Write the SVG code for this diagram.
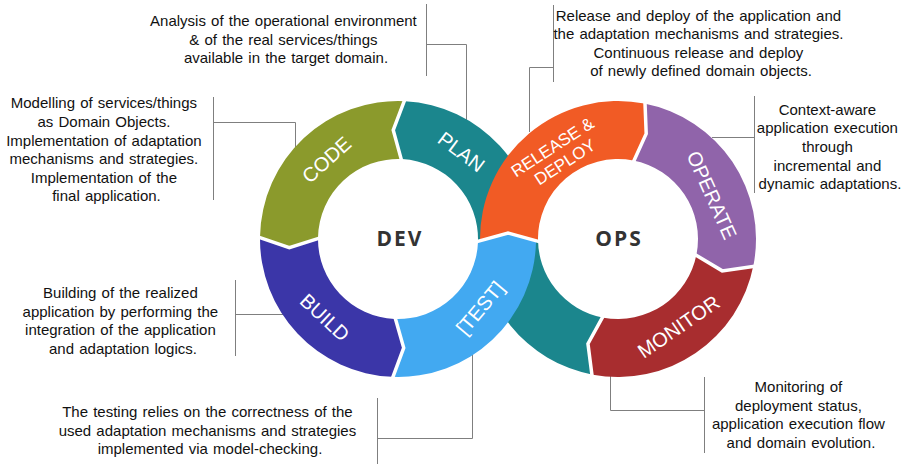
<svg xmlns="http://www.w3.org/2000/svg" width="904" height="464" viewBox="0 0 904 464">
  <style>
    .seg-label { font-family: "Liberation Sans", Arial, sans-serif; font-size: 20px; fill: #ffffff; text-anchor: middle; }
    .hub { font-family: "Open Sans", "DejaVu Sans", sans-serif; font-weight: bold; font-size: 21px; fill: #333333; text-anchor: middle; letter-spacing: 2px; }
    .desc { font-family: "Liberation Sans", Arial, sans-serif; font-size: 15px; fill: #111111; text-anchor: middle; word-spacing: 1px; }
    .conn { fill: none; stroke: #7f7f7f; stroke-width: 1; }
    .gap { fill: none; stroke: #ffffff; stroke-width: 3.5; stroke-linejoin: miter; }
  </style>
  <rect width="904" height="464" fill="#ffffff"/>

  <!-- callout lines -->
  <g id="connectors">
    <path class="conn" d="M426.5,4 V76 M426.5,44.5 H466.5 V120"/>
    <path class="conn" d="M213.5,97 V200 M213.5,122.5 H295.5 V148"/>
    <path class="conn" d="M553.5,5 V82 M553.5,67.5 H529.5 V132"/>
    <path class="conn" d="M754.5,96 V193 M754.5,137.5 H712"/>
    <path class="conn" d="M235.5,280 V356 M235.5,314.5 H284"/>
    <path class="conn" d="M377.5,398 V464 M377.5,438.5 H472.5 V354"/>
    <path class="conn" d="M704.5,377 V453 M704.5,410.5 H610.5 V375"/>
  </g>

  <!-- PLAN: top of the DEV ring, continuing under the crossing into the OPS ring -->
  <g id="plan">
    <path fill="#1b868d" d="M405.22,101.19 A138,138 0 0 1 535.92,243.82 L477.95,241.79 A80,80 0 0 0 402.19,159.11 L393.25,130.10 Z"/>
    <path fill="#1b868d" d="M592.85,374.69 A138,138 0 0 1 480.08,234.18 L538.05,236.21 A80,80 0 0 0 603.42,317.66 L587.96,343.78 Z"/>
    <text class="seg-label" transform="translate(461.5,151.6) rotate(37)" dy="0.36em">PLAN</text>
  </g>

  <g id="code">
    <path fill="#8b9a2c" d="M260.02,236.59 A138,138 0 0 1 405.22,101.19 L393.25,130.10 L402.19,159.11 A80,80 0 0 0 318.01,237.60 L289.34,247.55 Z"/>
    <text class="seg-label" transform="translate(326.4,159.5) rotate(-42)" dy="0.36em">CODE</text>
  </g>

  <g id="build">
    <path fill="#3b36a8" d="M391.98,376.87 A138,138 0 0 1 260.02,236.59 L289.34,247.55 L318.01,237.60 A80,80 0 0 0 394.51,318.92 L403.70,347.85 Z"/>
    <text class="seg-label" transform="translate(325,317.3) rotate(43)" dy="0.36em">BUILD</text>
  </g>

  <g id="operate">
    <path fill="#9064aa" d="M644.33,103.54 A138,138 0 0 1 753.46,265.33 L722.24,270.87 L696.53,254.26 A80,80 0 0 0 633.26,160.47 L646.21,133.71 Z"/>
    <text class="seg-label" transform="translate(712,195) rotate(66)" dy="0.36em">OPERATE</text>
  </g>

  <g id="monitor">
    <path fill="#a82d2f" d="M753.46,265.33 A138,138 0 0 1 592.85,374.69 L587.96,343.78 L603.42,317.66 A80,80 0 0 0 696.53,254.26 L722.24,270.87 Z"/>
    <text class="seg-label" transform="translate(678.5,326.5) rotate(-34.5)" dy="0.36em">MONITOR</text>
  </g>

  <g id="test">
    <path fill="#42a9f1" d="M536,242 A138,138 0 0 1 391.98,376.87 L403.70,347.85 L394.51,318.92 A80,80 0 0 0 478,242 L508,233 Z"/>
    <text class="seg-label" transform="translate(480,307.8) rotate(-50)" dy="0.36em">[TEST]</text>
  </g>

  <g id="release-deploy">
    <path fill="#f15b25" d="M480,242 A138,138 0 0 1 644.33,103.54 L646.21,133.71 L633.26,160.47 A80,80 0 0 0 538,242 L508,233 Z"/>
    <text class="seg-label" style="font-size:17px" transform="translate(559.5,153.7) rotate(-33)">
      <tspan x="0" y="-9.7" dy="0.36em">RELEASE &amp;</tspan>
      <tspan x="0" y="9.7" dy="0.36em">DEPLOY</tspan>
    </text>
  </g>

  <!-- white separators between consecutive phases -->
  <g id="separators">
    <polyline class="gap" points="402.03,162.10 393.25,130.10 405.38,98.19"/>
    <polyline class="gap" points="321.01,237.66 289.34,247.55 257.02,236.54"/>
    <polyline class="gap" points="394.64,315.92 403.70,347.85 391.85,379.87"/>
    <polyline class="gap" points="475,242.1 508,233 541,242.1"/>
    <polyline class="gap" points="632.69,163.41 646.21,133.71 644.90,100.59"/>
    <polyline class="gap" points="693.59,253.69 722.24,270.87 756.41,265.90"/>
    <polyline class="gap" points="603.97,314.71 587.96,343.78 592.30,377.64"/>
  </g>

  <g id="dev">
    <text class="hub" x="400" y="246">DEV</text>
  </g>
  <g id="ops">
    <text class="hub" x="619" y="246">OPS</text>
  </g>

  <g id="note-plan">
    <text class="desc">
      <tspan x="286" y="26">Analysis of the operational environment</tspan>
      <tspan x="286" y="44.6">&amp; of the real services/things</tspan>
      <tspan x="286" y="63.2">available in the target domain.</tspan>
    </text>
  </g>

  <g id="note-code">
    <text class="desc">
      <tspan x="106.5" y="108.3">Modelling of services/things</tspan>
      <tspan x="106.5" y="126.9">as Domain Objects.</tspan>
      <tspan x="106.5" y="145.5">Implementation of adaptation</tspan>
      <tspan x="106.5" y="164.1">mechanisms and strategies.</tspan>
      <tspan x="106.5" y="182.7">Implementation of the</tspan>
      <tspan x="106.5" y="201.3">final application.</tspan>
    </text>
  </g>

  <g id="note-release">
    <text class="desc">
      <tspan x="701" y="20.5">Release and deploy of the application and</tspan>
      <tspan x="701" y="39.1">the adaptation mechanisms and strategies.</tspan>
      <tspan x="701" y="57.7">Continuous release and deploy</tspan>
      <tspan x="701" y="76.3">of newly defined domain objects.</tspan>
    </text>
  </g>

  <g id="note-operate">
    <text class="desc">
      <tspan x="830" y="114.8">Context-aware</tspan>
      <tspan x="830" y="133.4">application execution</tspan>
      <tspan x="830" y="152">through</tspan>
      <tspan x="830" y="170.6">incremental and</tspan>
      <tspan x="830" y="189.2">dynamic adaptations.</tspan>
    </text>
  </g>

  <g id="note-build">
    <text class="desc">
      <tspan x="123" y="298.2">Building of the realized</tspan>
      <tspan x="123" y="316.8">application by performing the</tspan>
      <tspan x="123" y="335.4">integration of the application</tspan>
      <tspan x="123" y="354">and adaptation logics.</tspan>
    </text>
  </g>

  <g id="note-test">
    <text class="desc">
      <tspan x="210" y="417.2">The testing relies on the correctness of the</tspan>
      <tspan x="210" y="435.8">used adaptation mechanisms and strategies</tspan>
      <tspan x="210" y="454.4">implemented via model-checking.</tspan>
    </text>
  </g>

  <g id="note-monitor">
    <text class="desc">
      <tspan x="801" y="392.2">Monitoring of</tspan>
      <tspan x="801" y="410.8">deployment status,</tspan>
      <tspan x="801" y="429.4">application execution flow</tspan>
      <tspan x="801" y="448">and domain evolution.</tspan>
    </text>
  </g>
</svg>
